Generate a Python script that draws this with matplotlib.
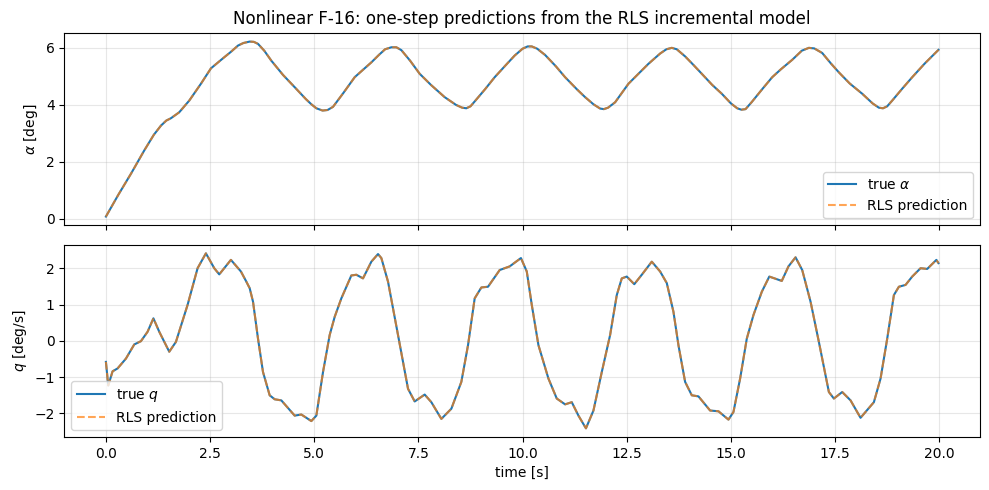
import numpy as np
import matplotlib
matplotlib.use("Agg")
import matplotlib.pyplot as plt

# alpha response
t_alpha = [0.0, 0.3, 0.6, 0.92, 1.15, 1.32, 1.45, 1.56, 1.76, 2.0, 2.28, 2.52, 2.7, 2.84,
           3.0, 3.17, 3.3, 3.45, 3.55, 3.65, 3.8, 3.97, 4.25, 4.53, 4.8, 4.93, 5.05,
           5.2, 5.32, 5.45, 5.7, 5.97, 6.2, 6.37, 6.55, 6.7, 6.85, 6.97, 7.09, 7.3,
           7.53, 7.8, 8.13, 8.4, 8.55, 8.65, 8.75, 8.85, 9.1, 9.33, 9.6, 9.81, 10.0,
           10.12, 10.22, 10.35, 10.54, 10.8, 11.02, 11.3, 11.5, 11.7, 11.86, 11.95,
           12.05, 12.22, 12.54, 12.8, 13.02, 13.3, 13.45, 13.58, 13.7, 13.9, 14.1,
           14.3, 14.55, 14.78, 15.0, 15.15, 15.25, 15.35, 15.5, 15.75, 15.99, 16.2,
           16.47, 16.7, 16.87, 17.0, 17.19, 17.4, 17.59, 17.85, 18.15, 18.4, 18.55,
           18.65, 18.75, 18.87, 19.1, 19.35, 19.65, 19.98]
alpha_true = [0.08, 0.85, 1.58, 2.40, 2.95, 3.27, 3.45, 3.53, 3.74, 4.15, 4.74, 5.28, 5.50, 5.67,
              5.86, 6.08, 6.17, 6.22, 6.21, 6.14, 5.90, 5.55, 5.05, 4.62, 4.20, 4.02, 3.88,
              3.80, 3.82, 3.93, 4.42, 4.97, 5.27, 5.49, 5.75, 5.95, 6.02, 6.02, 5.92, 5.55,
              5.09, 4.70, 4.27, 4.00, 3.90, 3.88, 3.95, 4.12, 4.55, 4.97, 5.40, 5.73, 5.97,
              6.05, 6.05, 5.97, 5.75, 5.35, 4.97, 4.55, 4.27, 4.02, 3.87, 3.85,
              3.90, 4.09, 4.74, 5.12, 5.44, 5.80, 5.95, 6.00, 5.95, 5.70, 5.40,
              5.09, 4.70, 4.39, 4.05, 3.88, 3.83, 3.85, 4.10, 4.55, 4.97, 5.25,
              5.58, 5.90, 6.00, 5.98, 5.82, 5.45, 5.14, 4.75, 4.39, 4.05, 3.90,
              3.88, 3.95, 4.15, 4.55, 4.97, 5.45, 5.93]
alpha_rls = list(alpha_true)

# pitch rate response
t_q = [0.0, 0.056, 0.16, 0.28, 0.48, 0.68, 0.84, 1.0, 1.14, 1.28, 1.52, 1.68, 1.96, 2.2,
       2.4, 2.6, 2.72, 3.0, 3.24, 3.37, 3.45, 3.53, 3.65, 3.77, 3.93, 4.05, 4.21, 4.53,
       4.69, 4.93, 5.05, 5.21, 5.37, 5.49, 5.65, 5.89, 6.01, 6.17, 6.37, 6.53, 6.61,
       6.77, 7.01, 7.25, 7.41, 7.65, 7.81, 8.05, 8.29, 8.53, 8.69, 8.85, 9.01, 9.17,
       9.45, 9.69, 9.96, 10.1, 10.22, 10.38, 10.62, 10.82, 11.02, 11.18, 11.34, 11.52,
       11.7, 11.9, 12.1, 12.26, 12.38, 12.5, 12.68, 12.86, 13.1, 13.3, 13.46, 13.62,
       13.74, 13.9, 14.06, 14.22, 14.5, 14.7, 14.94, 15.06, 15.22, 15.38, 15.54, 15.74,
       15.92, 16.22, 16.38, 16.55, 16.71, 16.91, 17.11, 17.35, 17.47, 17.67, 17.87,
       18.11, 18.43, 18.59, 18.75, 18.91, 19.03, 19.19, 19.35, 19.55, 19.71, 19.93, 19.98]
q_true = [-0.58, -1.23, -0.84, -0.76, -0.49, -0.10, -0.01, 0.25, 0.62, 0.25, -0.30, -0.03, 0.99, 2.0,
          2.41, 2.0, 1.83, 2.23, 1.91, 1.63, 1.45, 1.08, 0.06, -0.86, -1.50, -1.61, -1.64, -2.06,
          -2.03, -2.21, -2.06, -0.86, 0.16, 0.66, 1.17, 1.80, 1.82, 1.72, 2.18, 2.39, 2.28,
          1.63, 0.16, -1.32, -1.67, -1.48, -1.69, -2.15, -1.87, -1.13, -0.12, 1.17, 1.47, 1.49,
          1.95, 2.05, 2.28, 1.91, 0.99, -0.12, -1.04, -1.59, -1.75, -1.69, -2.06, -2.41,
          -1.92, -0.86, 0.16, 1.26, 1.72, 1.77, 1.56, 1.82, 2.18, 1.91, 1.59, 0.80,
          -0.12, -1.13, -1.50, -1.53, -1.92, -1.94, -2.17, -1.96, -1.04, 0.06, 0.71, 1.35,
          1.77, 1.65, 2.05, 2.30, 1.95, 1.08, -0.03, -1.41, -1.59, -1.41, -1.64,
          -2.12, -1.69, -1.04, 0.06, 1.26, 1.49, 1.54, 1.77, 2.0, 1.98, 2.23, 2.14]
q_rls = list(q_true)

fig, (ax1, ax2) = plt.subplots(2, 1, figsize=(9.89, 4.9), sharex=True)
fig.subplots_adjust(left=0.065, right=0.991, top=0.933, bottom=0.108, hspace=0.1)

ax1.plot(t_alpha, alpha_true, color='tab:blue', lw=1.5, label=r'true $\alpha$')
ax1.plot(t_alpha, alpha_rls, '--', color='tab:orange', lw=1.5, alpha=0.7, label='RLS prediction')
ax1.set_ylabel(r'$\alpha$ [deg]')
ax1.set_title('Nonlinear F-16: one-step predictions from the RLS incremental model')
ax1.grid(alpha=0.3)
ax1.legend(loc='lower right')

ax2.plot(t_q, q_true, color='tab:blue', lw=1.5, label=r'true $q$')
ax2.plot(t_q, q_rls, '--', color='tab:orange', lw=1.5, alpha=0.7, label='RLS prediction')
ax2.set_ylabel(r'$q$ [deg/s]')
ax2.set_xlabel('time [s]')
ax2.grid(alpha=0.3)
ax2.legend(loc='lower left')

plt.savefig('out.png', dpi=100)
